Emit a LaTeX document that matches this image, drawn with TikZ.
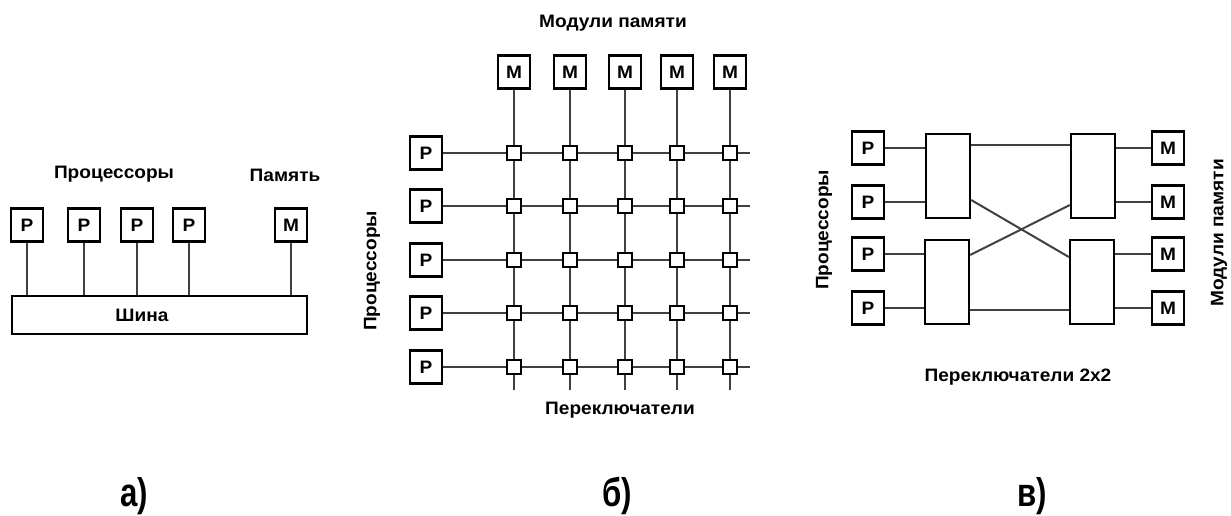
\documentclass[tikz,border=0pt]{standalone}
\usepackage{fontspec}
\setmainfont{Liberation Sans}[FakeStretch=1.06]
\newfontfamily\capfont{Liberation Sans}[FakeStretch=0.78]
\usetikzlibrary{positioning}

\begin{document}
\begin{tikzpicture}[
        x=1pt, y=-1pt,
        every node/.style={font=\fontsize{18}{20}\selectfont\bfseries},
        unitbox/.style={draw, line width=2.6pt, minimum width=32pt, minimum height=33pt, inner sep=0pt},
        busbox/.style={draw, line width=2.4pt, minimum width=295pt, minimum height=38pt},
        xsw/.style={draw, line width=1.8pt, fill=white, minimum size=14pt, inner sep=0pt},
        swbox/.style={draw, line width=2.4pt, minimum width=44pt, minimum height=84pt},
        wire/.style={line width=2pt, black!75},
        caption/.style={font=\fontsize{40}{44}\capfont\bfseries, anchor=base}
    ]
    \useasboundingbox (0,0) rectangle (1231,516);

    % a) bus
    \node[busbox] (bus) at (159.5,315) {};
    \node (busname) at (142,315) {Шина};
    \foreach \x [count=\i] in {27,84,137,189} {
        \node[unitbox] (pa\i) at (\x,225) {P};
        \draw[wire] (pa\i) -- (pa\i |- bus.north);
    }
    \node[unitbox] (ma) at (291,225) {M};
    \draw[wire] (ma) -- (ma |- bus.north);
    \node (procA) at (114,174) {Процессоры};
    \node (memA) at (285,175) {Память};

    % b) crossbar
    \foreach \x [count=\j] in {514,570,625,677,730} {
        \node[unitbox] (mb\j) at (\x,72) {M};
        \coordinate (cb\j) at (\x,390);
    }
    \foreach \y [count=\i] in {153,206,260,313,367} {
        \node[unitbox] (pb\i) at (426,\y) {P};
        \coordinate (rb\i) at (750,\y);
    }
    \foreach \i in {1,...,5} {
        \draw[wire] (pb\i) -- (rb\i);
        \draw[wire] (mb\i) -- (cb\i);
    }
    \foreach \i in {1,...,5}
        \foreach \j in {1,...,5}
            \node[xsw] (x\i\j) at (mb\j |- pb\i) {};
    \node (memB) at (613,23) {Модули памяти};
    \node (swB) at (620,410) {Переключатели};
    \node[rotate=90] (procB) at (372,271) {Процессоры};

    % c) 2x2 switches
    \foreach \y [count=\i] in {148,202,254,308} {
        \node[unitbox] (pc\i) at (868,\y) {P};
        \node[unitbox] (mc\i) at (1168,\y) {M};
    }
    \node[swbox] (sl1) at (948,176) {};
    \node[swbox] (sl2) at (947,282) {};
    \node[swbox] (sr1) at (1093,176) {};
    \node[swbox] (sr2) at (1092,282) {};
    \draw[wire] (pc1) -- (pc1 -| sl1.west);
    \draw[wire] (pc2) -- (pc2 -| sl1.west);
    \draw[wire] (pc3) -- (pc3 -| sl2.west);
    \draw[wire] (pc4) -- (pc4 -| sl2.west);
    \draw[wire] (mc1) -- (mc1 -| sr1.east);
    \draw[wire] (mc2) -- (mc2 -| sr1.east);
    \draw[wire] (mc3) -- (mc3 -| sr2.east);
    \draw[wire] (mc4) -- (mc4 -| sr2.east);
    \draw[wire] ([yshift=31pt]sl1.east) -- ([yshift=31pt]sr1.west);
    \draw[wire] ([yshift=-28pt]sl2.east) -- ([yshift=-28pt]sr2.west);
    \draw[wire] ([yshift=-24pt]sl1.east) -- ([yshift=25pt]sr2.west);
    \draw[wire] ([yshift=27pt]sl2.east) -- ([yshift=-29pt]sr1.west);
    \node[rotate=90] (procC) at (824,230) {Процессоры};
    \node[rotate=90] (memC) at (1219,233) {Модули памяти};
    \node (swC) at (1018,377) {Переключатели 2x2};

    % captions
    \node[caption] (capA) at (134,506) {а)};
    \node[caption] (capB) at (617,506) {б)};
    \node[caption] (capC) at (1032,506) {в)};
\end{tikzpicture}
\end{document}
